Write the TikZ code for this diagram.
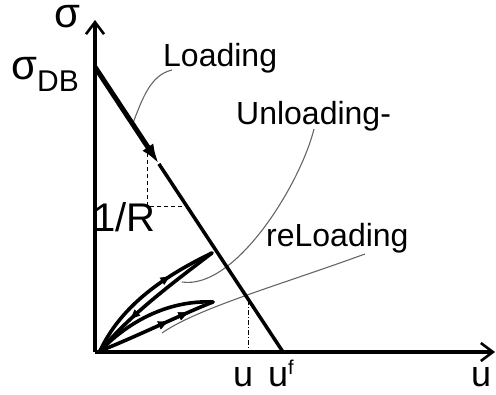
\documentclass[tikz,border=0pt]{standalone}
\usepackage{fontspec}
\setmainfont{Liberation Sans}
\usetikzlibrary{arrows.meta,decorations.markings,calc}
\begin{document}
\begin{tikzpicture}[x=1pt,y=-1pt,
  axisline/.style={line width=3.2pt,-{Straight Barb[length=12pt,width=18pt,line width=2.6pt]}},
  leader/.style={line width=1.1pt,draw=black!60},
  helper/.style={line width=1.1pt,dash pattern=on 4pt off 3pt},
  helperdd/.style={line width=1.1pt,dash pattern=on 5pt off 2pt on 1pt off 2pt},
  loopline/.style={line width=3.6pt,line cap=round},
  midarrow/.style={postaction={decorate},decoration={markings,mark=at position #1 with {\arrow{Latex[length=12pt,width=9pt]}}}},
  lbl/.style={inner sep=0pt,anchor=base west,font=\fontsize{32}{36}\selectfont},
  sym/.style={inner sep=0pt,anchor=base west,font=\fontsize{36}{40}\selectfont},
  greek/.style={inner sep=0pt,anchor=base west,font=\fontsize{42}{46}\selectfont}]
\useasboundingbox (0,0) rectangle (496,395);
\coordinate (O) at (95,352);
\coordinate (Ytip) at (95,20);
\coordinate (Xtip) at (495,352);
\coordinate (S) at (95,67);
\coordinate (F) at (283,352);
\coordinate (A) at ($(S)!0.34!(F)$);
\coordinate (P1) at ($(S)!0.278!(F)$);
\coordinate (P2) at ($(S)!0.488!(F)$);
\coordinate (P3) at ($(S)!0.818!(F)$);
\coordinate (LL) at ($(S)!0.2!(F)$);
\coordinate (L0) at (100,351);
\coordinate (T1) at (212,253);
\coordinate (T2) at (213,302);
% helper lines
\draw[helper] (P1) |- (P2);
\draw[helperdd] (P3) -- (P3 |- O);
% leaders
\coordinate (LdA) at (172,70);
\coordinate (UlA) at (314,129);
\coordinate (UlB) at (182,282);
\coordinate (RlA) at (365,254);
\coordinate (RlB) at (162,333);
\draw[leader] (LdA) .. controls (150,75) and (142,100) .. (LL);
\draw[leader] (UlA) .. controls (300,185) and (235,290) .. (UlB);
\draw[leader] (RlA) .. controls (280,285) and (198,308) .. (RlB);
% axes
\draw[axisline] (O) -- (Ytip);
\draw[axisline] (O) -- (Xtip);
% main line
\draw[line width=3.5pt] (A) -- (F);
\draw[line width=5pt,-{Latex[length=20pt,width=13pt]}] (S) -- (A);
% loops
\draw[loopline,midarrow=0.7] (L0) .. controls (120,308) and (160,278) .. (T1);
\draw[loopline,midarrow=0.72] (T1) .. controls (170,285) and (130,315) .. (L0);
\draw[loopline] (L0) .. controls (130,320) and (170,300) .. (T2);
\draw[loopline,midarrow=0.62,midarrow=0.8] (L0) .. controls (140,335) and (180,315) .. (T2);
% labels
\node[greek] (sig) at (54,28) {σ};
\node[greek] (sigdb) at (11,80) {σ\raisebox{-12pt}{\fontsize{30}{32}\selectfont DB}};
\node[inner sep=0pt,anchor=base west,font=\fontsize{40}{44}\selectfont] (oneR) at (93,232) {1/R};
\node[lbl] (loading) at (163,67) {Loading};
\node[lbl] (unloading) at (236,125) {Unloading-};
\node[lbl] (reloading) at (266,247) {reLoading};
\node[sym] (u1) at (233,387) {u};
\node[sym] (uf) at (268,387) {u\raisebox{12pt}{\fontsize{20}{22}\selectfont f}};
\node[sym] (u2) at (471,387) {u};
\end{tikzpicture}
\end{document}
